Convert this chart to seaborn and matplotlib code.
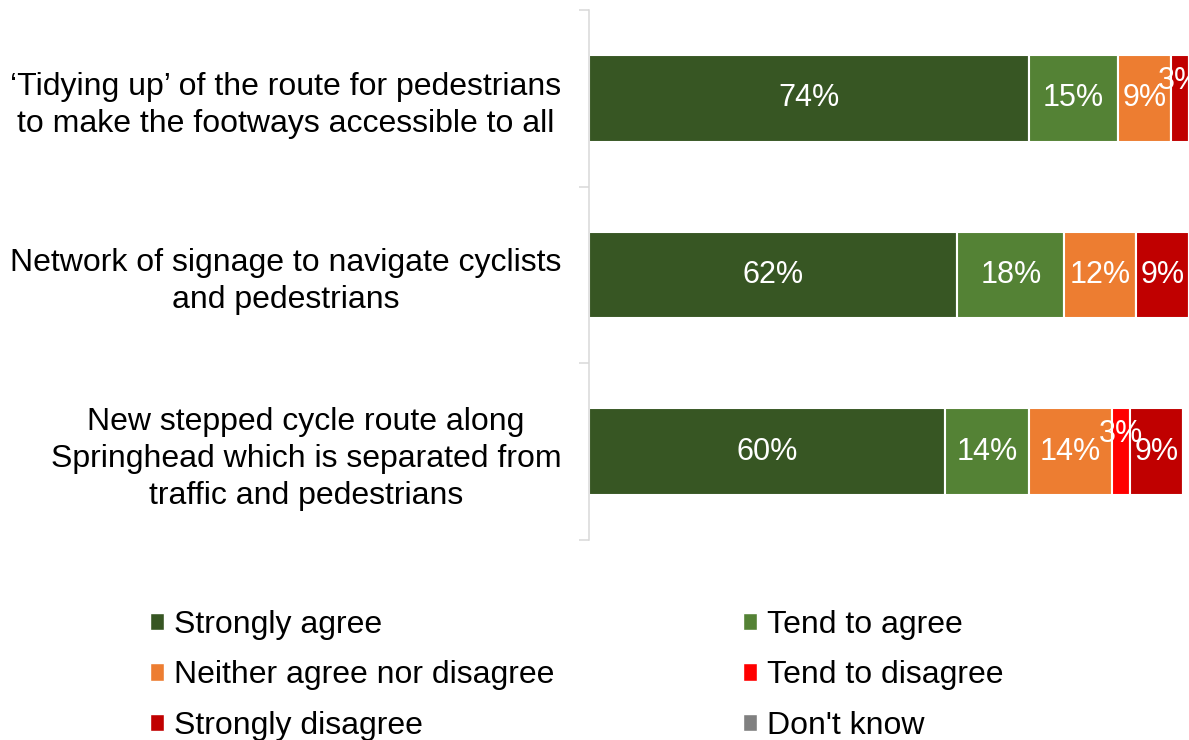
import pandas as pd
import matplotlib.pyplot as plt
import seaborn as sns
from matplotlib.patches import Patch

# Survey statements (y categories)
categories = [
    "\u2018Tidying up\u2019 of the route for pedestrians\nto make the footways accessible to all",
    "Network of signage to navigate cyclists\nand pedestrians",
    "New stepped cycle route along\nSpringhead which is separated from\ntraffic and pedestrians",
]

responses = ["Strongly agree", "Tend to agree", "Neither agree nor disagree",
             "Tend to disagree", "Strongly disagree", "Don't know"]

# Percentages per response, one value per statement
strongly_agree = [74, 62, 60]
tend_to_agree = [15, 18, 14]
neither = [9, 12, 14]
tend_to_disagree = [0, 0, 3]
strongly_disagree = [3, 9, 9]
dont_know = [0, 0, 0]

series = [strongly_agree, tend_to_agree, neither, tend_to_disagree, strongly_disagree, dont_know]
colors = ["#375623", "#548235", "#ed7d31", "#ff0000", "#c00000", "#808080"]

sns.set_style("white")
plt.rcParams['font.family'] = ['Liberation Sans', 'DejaVu Sans']
plt.rcParams['text.color'] = 'black'
plt.rcParams['ytick.color'] = 'black'

fig = plt.figure(figsize=(11.89, 7.4), dpi=100)
ax = fig.add_axes([589 / 1189, 200 / 740, 600 / 1189, 530 / 740])

# Stacked horizontal bars
left = [0, 0, 0]
for name, vals, col in zip(responses, series, colors):
    df = pd.DataFrame({"item": categories, "pct": vals})
    sns.barplot(data=df, x="pct", y="item", order=categories, orient="h",
                left=left, color=col, saturation=1, width=0.49,
                edgecolor="white", linewidth=1.5, ax=ax)
    for i, (v, l) in enumerate(zip(vals, left)):
        if v > 0:
            # small segments get their label nudged up, as in the original
            yoff = -0.1 if v < 5 else 0
            ax.text(l + v / 2, i + yoff, f"{v}%", ha="center", va="center",
                    color="white", fontsize=22)
    left = [l + v for l, v in zip(left, vals)]

ax.set_xlim(0, 101)
ax.set_ylim(2.5, -0.5)
ax.set_xlabel("")
ax.set_ylabel("")
ax.set_xticks([])

# tick marks between categories, labels in the middle
ax.set_yticks([-0.5, 0.5, 1.5, 2.5])
ax.set_yticklabels([])
ax.set_yticks([0, 1, 2], minor=True)
ax.set_yticklabels(categories, minor=True, fontsize=23, ha="right",
                   multialignment="center", linespacing=1.3, color="black")
ax.tick_params(axis="y", which="major", left=True, direction="out", length=7,
               width=1.1, color="#d9d9d9")
ax.tick_params(axis="y", which="minor", left=False, length=0, pad=20)

for s in ["top", "right", "bottom"]:
    ax.spines[s].set_visible(False)
ax.spines["left"].set_color("#d9d9d9")
ax.spines["left"].set_linewidth(1.1)

# Legend, two columns
handles = [Patch(facecolor=c) for c in colors]
order = [0, 2, 4, 1, 3, 5]
fig.legend([handles[i] for i in order], [responses[i] for i in order], ncol=2,
           loc="upper left", bbox_to_anchor=(150 / 1189, 1 - 610 / 740),
           frameon=False, fontsize=23, handlelength=0.45, handleheight=0.45,
           handletextpad=0.3, columnspacing=5.9, labelspacing=0.64,
           borderpad=0, borderaxespad=0)

plt.savefig("out.png", dpi=100)
